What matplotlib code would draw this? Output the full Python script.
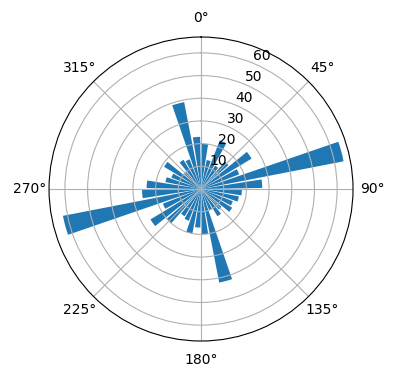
import numpy as np
import matplotlib
matplotlib.use('Agg')
import matplotlib.pyplot as plt

# bin centres in degrees, clockwise from north
angles_deg = [5, 15, 25, 35, 45, 55, 65, 75, 85, 95, 105, 115,
              125, 135, 145, 155, 165, 175, 185, 195, 205, 215, 225, 235,
              245, 255, 265, 275, 285, 295, 305, 315, 325, 335, 345, 355]
counts = [20, 13, 23, 12, 16, 26, 18, 64, 27, 18, 17, 15,
          16, 12, 14, 10, 42, 20, 17, 20, 15, 14, 20, 26,
          18, 62, 26, 24, 16, 14, 19, 10, 15, 14, 39, 23]

theta = np.deg2rad(angles_deg)
width = np.deg2rad(8)

fig = plt.figure(figsize=(3.96, 3.8), dpi=100)
ax = fig.add_axes([0.1238, 0.1026, 0.7677, 0.8], projection='polar')
ax.set_theta_zero_location('N')
ax.set_theta_direction(-1)
ax.bar(theta, counts, width=width, color='#1f77b4')
ax.set_ylim(0, 67)
ax.set_yticks([10, 20, 30, 40, 50, 60])

fig.savefig('out.png', dpi=100)
